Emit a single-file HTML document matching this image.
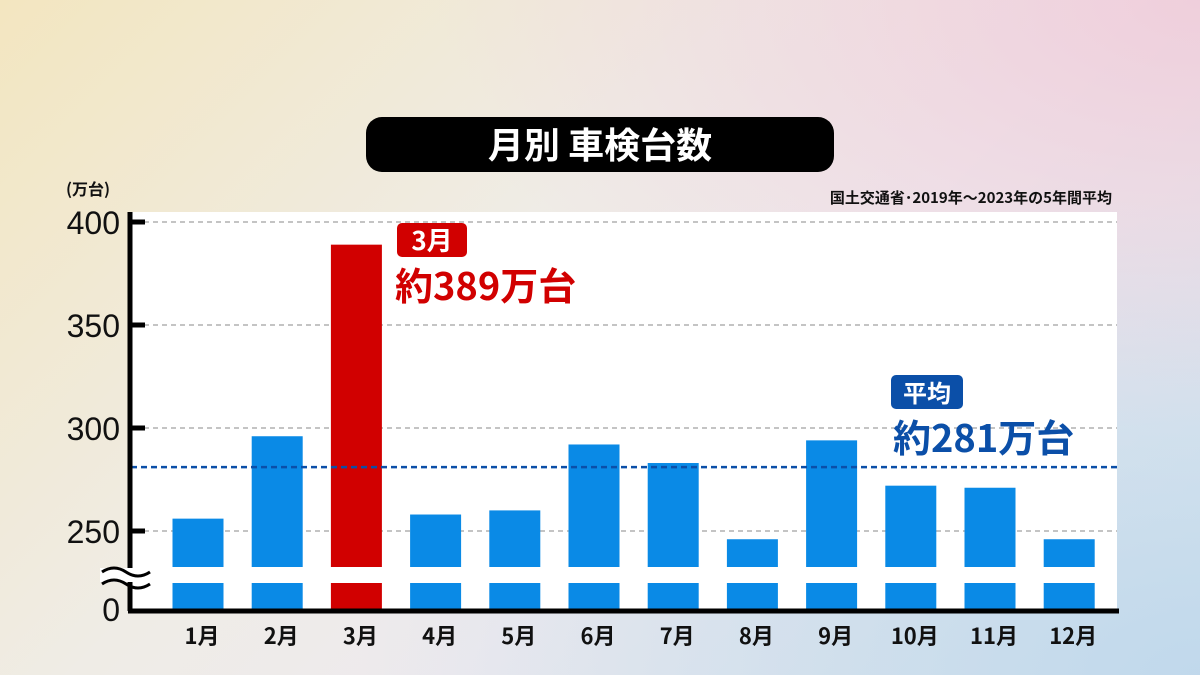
<!DOCTYPE html>
<html><head><meta charset="utf-8"><style>
body{margin:0;width:1200px;height:675px;overflow:hidden;font-family:"Liberation Sans","Noto Sans CJK JP",sans-serif;}
#bg{position:absolute;left:0;top:0;width:1200px;height:675px;background:linear-gradient(135deg,#f3e6c0 0%,#efece6 40%,#eeeaee 60%,#d9e6ef 100%);}
#bg2{position:absolute;left:0;top:0;width:1200px;height:675px;background:radial-gradient(ellipse at 100% 0%,rgba(240,200,215,0.8),rgba(240,200,215,0) 45%),radial-gradient(ellipse at 100% 100%,rgba(190,215,235,0.9),rgba(190,215,235,0) 50%);}
</style></head><body>
<div id="bg"></div>
<div id="bg2"></div>
<svg id="chart" width="1200" height="675" style="position:absolute;left:0;top:0">
<rect x="366" y="117" width="468" height="55" rx="16" fill="#000"/>
<text x="600" y="158" text-anchor="middle" font-size="36" font-weight="bold" fill="#fff" font-family="Noto Sans CJK JP, sans-serif">月別 車検台数</text>
<text x="66" y="195" font-size="16" font-weight="bold" fill="#111" font-family="Noto Sans CJK JP, sans-serif">(万台)</text>
<text x="1112" y="203" text-anchor="end" font-size="15" font-weight="bold" fill="#111" font-family="Noto Sans CJK JP, sans-serif">国土交通省･2019年～2023年の5年間平均</text>
<rect x="131" y="212" width="986" height="397" fill="#fff"/>
<g id="grid"></g><g id="bars"></g><g id="axis"></g>
</svg>
<script>
const months=["1月","2月","3月","4月","5月","6月","7月","8月","9月","10月","11月","12月"];
const values=[256,296,389,258,260,292,283,246,294,272,271,246];
const ticks=[250,300,350,400];
const average=281;
const highlight="3月";
const svg=document.getElementById('chart');
const NS="http://www.w3.org/2000/svg";
function el(t,a,p){const e=document.createElementNS(NS,t);for(const k in a)e.setAttribute(k,a[k]);(p||svg).appendChild(e);return e;}
function y(v){return 222+(400-v)*(531-222)/150;}
function x(i){return 198+i*79.2;}
const bw=51, segBottom=567, lowTop=583, base=609;
const grid=document.getElementById('grid'),bars=document.getElementById('bars'),axis=document.getElementById('axis');
ticks.forEach(t=>{
 const l=el('line',{x1:135,x2:1117,y1:y(t),y2:y(t),stroke:'#c4c4c4','stroke-width':2,'stroke-dasharray':'5,4'},grid);
 
 
 const tk=el('line',{x1:128,x2:145,y1:y(t),y2:y(t),stroke:'#000','stroke-width':5},axis);
 
 
 const tx=el('text',{x:120,y:y(t)+12,'text-anchor':'end','font-size':32,fill:'#111'},axis);
 tx.textContent=t;
 
 
});
months.forEach((m,i)=>{
 const c=m===highlight?'#d10000':'#0a8ae6';
 const top=el('rect',{x:x(i)-bw/2,y:y(values[i]),width:bw,height:segBottom-y(values[i]),fill:c},bars);
 
 
 const low=el('rect',{x:x(i)-bw/2,y:lowTop,width:bw,height:base-lowTop,fill:c},bars);
 
 
 const lb=el('text',{x:x(i)+4,y:644,'text-anchor':'middle','font-size':22,'font-weight':'bold',fill:'#111','font-family':'Noto Sans CJK JP, sans-serif'},axis);
 lb.textContent=m;
 
 
});
const av=el('line',{x1:131,x2:1117,y1:y(average),y2:y(average),stroke:'#0b4fa8','stroke-width':2.5,'stroke-dasharray':'6,4'},bars);


const ya=el('line',{x1:130,x2:130,y1:212,y2:611,stroke:'#000','stroke-width':5},axis);


const xa=el('line',{x1:128,x2:1119,y1:611,y2:611,stroke:'#000','stroke-width':5},axis);


const zero=el('text',{x:120,y:621,'text-anchor':'end','font-size':32,fill:'#111'},axis);
zero.textContent='0';


const brk=el('rect',{x:100,y:568,width:60,height:14,fill:'#fff'},axis);


[568,580].forEach((yy,k)=>{
 const w=el('path',{d:`M102 ${yy+4} q12 -8 24 0 t24 0`,stroke:'#000','stroke-width':3,fill:'none'},axis);
 
 
});
// annotations
const hi=months.indexOf(highlight);
const r1=el('rect',{x:397,y:223,width:70,height:34,rx:5,fill:'#d10000'},axis);


const t1=el('text',{x:432,y:250,'text-anchor':'middle','font-size':26,'font-weight':'bold',fill:'#fff','font-family':'Noto Sans CJK JP, sans-serif'},axis);
t1.textContent=highlight;


const t2=el('text',{x:395,y:300,'font-size':38,'font-weight':'bold',fill:'#d10000','font-family':'Noto Sans CJK JP, sans-serif'},axis);
t2.textContent='約'+values[hi]+'万台';


const r2=el('rect',{x:891,y:375,width:72,height:34,rx:5,fill:'#0b4fa8'},axis);


const t3=el('text',{x:927,y:402,'text-anchor':'middle','font-size':24,'font-weight':'bold',fill:'#fff','font-family':'Noto Sans CJK JP, sans-serif'},axis);
t3.textContent='平均';


const t4=el('text',{x:893,y:452,'font-size':38,'font-weight':'bold',fill:'#0b4fa8','font-family':'Noto Sans CJK JP, sans-serif'},axis);
t4.textContent='約'+average+'万台';


</script>
</body></html>
